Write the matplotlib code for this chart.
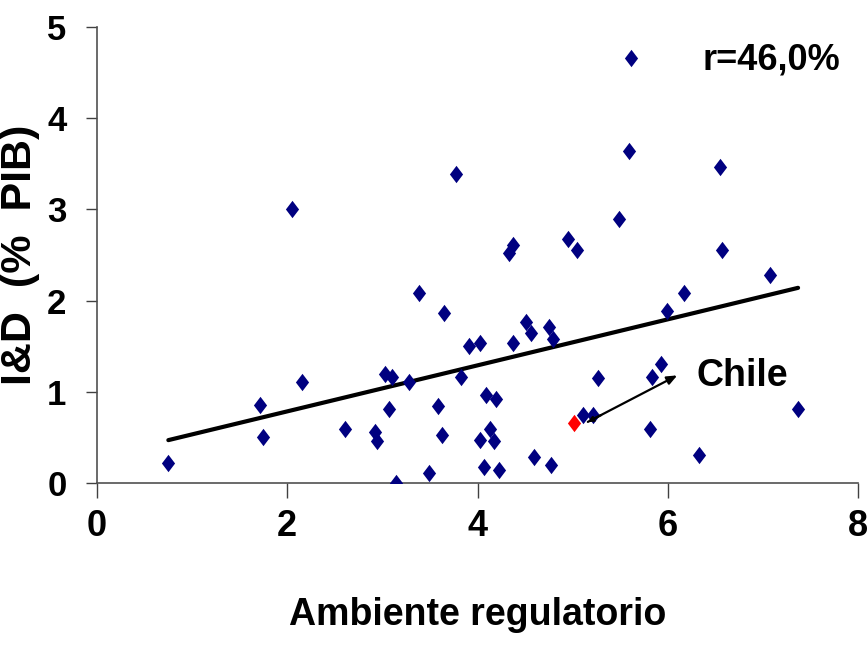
import numpy as np
import matplotlib
matplotlib.use("Agg")
import matplotlib.pyplot as plt
from matplotlib.path import Path

plt.rcParams['font.family'] = ['Liberation Sans', 'DejaVu Sans']
plt.rcParams['font.weight'] = 'bold'

# Datos: ambiente regulatorio vs I&D (% PIB)
ambiente = [0.75, 1.71, 1.75, 2.05, 2.15, 2.61, 2.92, 2.94, 3.03, 3.07,
            3.10, 3.14, 3.28, 3.39, 3.49, 3.59, 3.63, 3.65, 3.77, 3.83,
            3.91, 4.03, 4.03, 4.07, 4.09, 4.13, 4.17, 4.19, 4.23, 4.33,
            4.37, 4.37, 4.51, 4.56, 4.59, 4.75, 4.77, 4.79, 4.95, 5.05,
            5.11, 5.21, 5.27, 5.49, 5.59, 5.61, 5.81, 5.83, 5.93, 5.99,
            6.17, 6.33, 6.55, 6.57, 7.07, 7.37]
iyd = [0.22, 0.86, 0.50, 3.00, 1.11, 0.59, 0.56, 0.46, 1.20, 0.81,
       1.16, 0.00, 1.11, 2.08, 0.11, 0.84, 0.53, 1.86, 3.39, 1.16,
       1.50, 1.53, 0.47, 0.17, 0.97, 0.59, 0.46, 0.92, 0.14, 2.52,
       2.61, 1.53, 1.76, 1.64, 0.28, 1.71, 0.20, 1.58, 2.67, 2.56,
       0.75, 0.75, 1.15, 2.89, 3.64, 4.66, 0.59, 1.16, 1.31, 1.89,
       2.08, 0.31, 3.47, 2.55, 2.28, 0.81]

chile_x, chile_y = 5.01, 0.66

# Linea de tendencia (extremos)
tend_x = [0.75, 7.37]
tend_y = [0.47, 2.14]

flecha_desde = (5.16, 0.67)
flecha_hasta = (6.10, 1.18)

x_ticks = [0, 2, 4, 6, 8]
y_ticks = [0, 1, 2, 3, 4, 5]

# Marcador tipo rombo (un poco mas alto que ancho, como Excel)
rombo = Path([(0, 1), (0.76, 0), (0, -1), (-0.76, 0), (0, 1)],
             [Path.MOVETO, Path.LINETO, Path.LINETO, Path.LINETO, Path.CLOSEPOLY])

fig = plt.figure(figsize=(8.67, 6.6), dpi=100)
ax = fig.add_axes([97 / 867, 1 - 483 / 660, (858 - 97) / 867, (483 - 27) / 660])

ax.plot(tend_x, tend_y, color='black', lw=3, solid_capstyle='round', zorder=2)
ax.plot(ambiente, iyd, ls='none', marker=rombo, ms=12.5, color='#000080',
        markeredgewidth=0, zorder=3)
ax.plot([chile_x], [chile_y], ls='none', marker=rombo, ms=12.5, color='#ff0000',
        markeredgewidth=0, zorder=4)

ax.annotate('', xy=flecha_hasta, xytext=flecha_desde,
            arrowprops=dict(arrowstyle='-|>,head_length=0.6,head_width=0.25',
                            color='black', lw=1.6, shrinkA=0, shrinkB=0), zorder=5)
ax.annotate('', xy=flecha_desde, xytext=(5.3, 0.745),
            arrowprops=dict(arrowstyle='-|>,head_length=0.3,head_width=0.15',
                            color='black', lw=1.6, shrinkA=0, shrinkB=0), zorder=5)

ax.text(6.3, 1.17, 'Chile', fontsize=27, fontweight='bold', va='center', ha='left')
ax.text(6.37, 4.64, 'r=46,0%', fontsize=26, fontweight='bold', va='center', ha='left')

ax.set_xlim(0, 8)
ax.set_ylim(0, 5)
ax.set_xticks(x_ticks)
ax.set_yticks(y_ticks)
ax.tick_params(axis='x', direction='out', length=11, width=1, color='#404040',
               labelsize=26, pad=8)
ax.tick_params(axis='y', direction='out', length=8, width=1, color='#404040',
               labelsize=25, pad=14)
for lab in ax.get_xticklabels() + ax.get_yticklabels():
    lab.set_fontweight('bold')

for s in ['top', 'right']:
    ax.spines[s].set_visible(False)
for s in ['left', 'bottom']:
    ax.spines[s].set_color('#505050')
    ax.spines[s].set_linewidth(1.2)

ax.set_xlabel('Ambiente regulatorio', fontsize=27, fontweight='bold')
ax.xaxis.set_label_coords(0.5, -0.25)
ax.set_ylabel('I&D  (%  PIB)', fontsize=31, fontweight='bold')
ax.yaxis.set_label_coords(-0.075, 0.5)

fig.savefig('out.png', dpi=100)
